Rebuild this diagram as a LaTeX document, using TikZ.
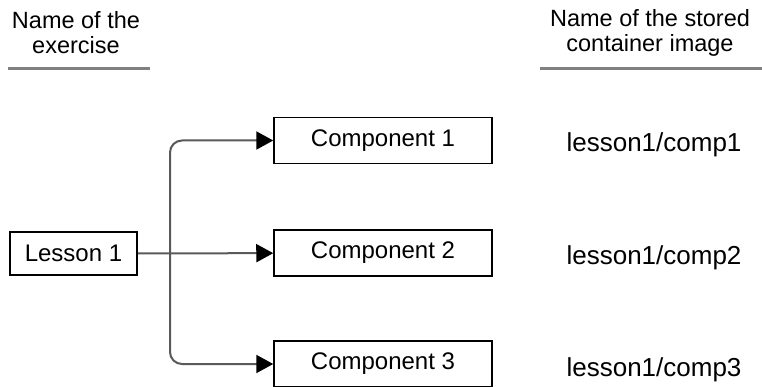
\documentclass[tikz,border=0pt]{standalone}
\usepackage{fontspec}
\setmainfont{Liberation Sans}
\usetikzlibrary{arrows.meta}

\begin{document}
\begin{tikzpicture}[x=1pt,y=-1pt,
	every node/.style={font=\fontsize{24}{25}\selectfont},
	box/.style={draw=black,line width=1.5pt,inner sep=0pt,minimum height=46pt},
	image/.style={anchor=base,font=\fontsize{26}{28}\selectfont},
	link/.style={draw=black!65,line width=2pt,-{Triangle[length=17pt,width=18pt,color=black]}},
	rule/.style={draw=black!50,line width=3pt}]
	\useasboundingbox (0,0) rectangle (762,387);

	% column headers
	\node[align=center,font=\fontsize{23.5}{25}\selectfont] (exhead)  at (76, 33)  {Name of the\\exercise};
	\node[align=center,font=\fontsize{23.5}{25}\selectfont] (imghead) at (650, 33) {Name of the stored\\container image};
	\draw[rule] (8,69) -- (150,69);
	\draw[rule] (540,69) -- (762,69);

	% exercise and its components
	\node[box,minimum width=127pt,minimum height=43pt] (lesson) at (73.5, 253.5) {Lesson 1};
	\node[box,minimum width=218pt] (comp1) at (383, 140.5) {Component 1};
	\node[box,minimum width=218pt] (comp2) at (383, 253)   {Component 2};
	\node[box,minimum width=218pt] (comp3) at (383, 364)   {Component 3};
	\coordinate (split) at (170, 253);

	% stored images
	\node[image] (img1) at (654, 152) {lesson1/comp1};
	\node[image] (img2) at (654, 264.5) {lesson1/comp2};
	\node[image] (img3) at (654, 376)   {lesson1/comp3};

	\draw[link] (lesson) -- (comp2);
	\draw[link,rounded corners=12pt] (split) |- (comp1);
	\draw[link,rounded corners=12pt] (split) |- (comp3);
\end{tikzpicture}
\end{document}
